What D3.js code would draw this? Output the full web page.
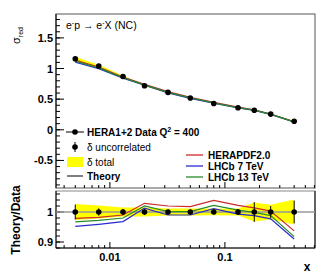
<!DOCTYPE html>
<html>
<head>
<meta charset="utf-8">
<script src="https://cdn.jsdelivr.net/npm/d3@7"></script>
<style>
  body { margin: 0; background: #fff; }
  text { font-family: "Liberation Sans", Arial, sans-serif; }
</style>
</head>
<body>
<div id="chart"></div>
<script>
// HERA1+2 NC e-p, Q2 = 400
var xVals = [0.005, 0.008, 0.013, 0.02, 0.032, 0.05, 0.08, 0.13, 0.18, 0.25, 0.40];
var sigma = [1.16, 1.04, 0.87, 0.72, 0.61, 0.52, 0.43, 0.36, 0.32, 0.256, 0.14];
var errUnc = [0.025, 0.012, 0.01, 0.01, 0.008, 0.008, 0.008, 0.01, 0.033, 0.02, 0.038];
var errTot = [0.027, 0.022, 0.015, 0.015, 0.012, 0.012, 0.011, 0.012, 0.032, 0.024, 0.042];

// theory / data ratios
var ratioHera = [0.979, 0.982, 0.99, 1.029, 1.02, 1.018, 1.039, 1.022, 1.014, 1.003, 0.937];
var ratio7 = [0.952, 0.959, 0.968, 1.013, 0.99, 0.99, 1.011, 0.993, 0.988, 0.977, 0.91];
var ratio13 = [0.967, 0.972, 0.98, 1.02, 1.001, 1.001, 1.022, 1.006, 0.999, 0.988, 0.918];

var topTicks = [-0.5, 0, 0.5, 1, 1.5];
var botTicks = [0.9, 1];
var xTicks = [0.01, 0.1];

var width = 332, height = 276;
var left = 56, right = 315;
var topY0 = 14, topY1 = 188, botY0 = 191, botY1 = 248;

var svg = d3.select('#chart').append('svg')
    .attr('width', width)
    .attr('height', height);

var x = d3.scaleLog().domain([0.0034, 0.607]).range([left, right]);
var yTop = d3.scaleLinear().domain([-0.95, 1.89]).range([topY1, topY0]);
var yBot = d3.scaleLinear().domain([0.88, 1.07]).range([botY1, botY0]);

var red = '#cc2a2a', blue = '#2a2acc', green = '#2a8a2a', band = '#ffff00';

var idx = d3.range(xVals.length);

// frames
svg.append('rect').attr('x', left).attr('y', topY0)
  .attr('width', right - left).attr('height', topY1 - topY0)
  .attr('fill', 'none').attr('stroke', '#555').attr('stroke-width', 1);
svg.append('rect').attr('x', left).attr('y', botY0)
  .attr('width', right - left).attr('height', botY1 - botY0)
  .attr('fill', 'none').attr('stroke', '#888').attr('stroke-width', 1);
svg.append('line').attr('x1', left).attr('x2', right).attr('y1', botY1).attr('y2', botY1)
  .attr('stroke', '#000');
svg.append('line').attr('x1', right).attr('x2', right).attr('y1', botY0).attr('y2', botY1)
  .attr('stroke', '#000');
svg.append('line').attr('x1', left).attr('x2', left).attr('y1', topY0).attr('y2', topY1)
  .attr('stroke', '#000');
svg.append('line').attr('x1', left).attr('x2', left).attr('y1', botY0).attr('y2', botY1)
  .attr('stroke', '#000');

// y ticks (inside)
var drawYTicks = function(scale, lo, hi, minorStep, majors, fmt) {
  var minors = d3.range(Math.ceil(lo / minorStep - 1e-6), Math.floor(hi / minorStep + 1e-6) + 1)
    .map(function(k) { return k * minorStep; });
  svg.selectAll(null).data(minors).enter().append('line')
    .attr('x1', left).attr('x2', left + 4)
    .attr('y1', function(d) { return scale(d); })
    .attr('y2', function(d) { return scale(d); })
    .attr('stroke', '#000');
  svg.selectAll(null).data(majors).enter().append('line')
    .attr('x1', left).attr('x2', left + 8)
    .attr('y1', function(d) { return scale(d); })
    .attr('y2', function(d) { return scale(d); })
    .attr('stroke', '#000');
  svg.selectAll(null).data(majors).enter().append('text')
    .attr('x', left - 3)
    .attr('y', function(d) { return scale(d) + 4; })
    .attr('text-anchor', 'end')
    .attr('font-size', 11).attr('font-weight', 'bold')
    .text(fmt);
};
drawYTicks(yTop, -0.9, 1.85, 0.1, topTicks, function(d) { return d === 0 ? '0' : String(d); });
drawYTicks(yBot, 0.88, 1.06, 0.02, botTicks, function(d) { return String(d); });

// x ticks (inside, log)
var xMinor = [];
[0.001, 0.01, 0.1].forEach(function(dec) {
  for (var m = 1; m <= 9; m++) {
    var v = dec * m;
    if (v >= 0.0034 && v <= 0.607) xMinor.push(v);
  }
});
[topY1, botY1].forEach(function(yb) {
  svg.selectAll(null).data(xMinor).enter().append('line')
    .attr('x1', function(d) { return x(d); })
    .attr('x2', function(d) { return x(d); })
    .attr('y1', yb).attr('y2', function(d) { return xTicks.indexOf(d) >= 0 ? yb - 6 : yb - 3; })
    .attr('stroke', '#000');
});
svg.selectAll(null).data(xTicks).enter().append('text')
  .attr('x', function(d) { return x(d); })
  .attr('y', botY1 + 13)
  .attr('text-anchor', 'middle')
  .attr('font-size', 11).attr('font-weight', 'bold')
  .text(function(d) { return String(d); });

// ---- top panel ----
svg.append('path')
  .datum(idx)
  .attr('fill', band)
  .attr('d', d3.area()
    .x(function(i) { return x(xVals[i]); })
    .y0(function(i) { return yTop(sigma[i] * (1 - errTot[i])); })
    .y1(function(i) { return yTop(sigma[i] * (1 + errTot[i])); }));

[[ratioHera, red], [ratio7, blue], [ratio13, green]].forEach(function(s) {
  svg.append('path')
    .datum(idx)
    .attr('fill', 'none')
    .attr('stroke', s[1]).attr('stroke-width', 1.3)
    .attr('d', d3.line()
      .x(function(i) { return x(xVals[i]); })
      .y(function(i) { return yTop(sigma[i] * s[0][i]); }));
});

svg.selectAll(null).data(idx).enter().append('circle')
  .attr('cx', function(i) { return x(xVals[i]); })
  .attr('cy', function(i) { return yTop(sigma[i]); })
  .attr('r', 2.8).attr('fill', '#000');

// ---- ratio panel ----
svg.append('path')
  .datum(idx)
  .attr('fill', band)
  .attr('d', d3.area()
    .x(function(i) { return x(xVals[i]); })
    .y0(function(i) { return yBot(1 - errTot[i]); })
    .y1(function(i) { return yBot(1 + errTot[i]); }));

svg.append('line')
  .attr('x1', left).attr('x2', right)
  .attr('y1', yBot(1)).attr('y2', yBot(1))
  .attr('stroke', '#999').attr('stroke-width', 1.5);

[[ratioHera, red], [ratio13, green], [ratio7, blue]].forEach(function(s) {
  svg.append('path')
    .datum(idx)
    .attr('fill', 'none')
    .attr('stroke', s[1]).attr('stroke-width', 1.2)
    .attr('d', d3.line()
      .x(function(i) { return x(xVals[i]); })
      .y(function(i) { return yBot(s[0][i]); }));
});

svg.selectAll(null).data(idx).enter().append('line')
  .attr('x1', function(i) { return x(xVals[i]); })
  .attr('x2', function(i) { return x(xVals[i]); })
  .attr('y1', function(i) { return yBot(1 - errUnc[i]); })
  .attr('y2', function(i) { return yBot(1 + errUnc[i]); })
  .attr('stroke', '#000').attr('stroke-width', 1);

svg.selectAll(null).data(idx).enter().append('circle')
  .attr('cx', function(i) { return x(xVals[i]); })
  .attr('cy', yBot(1))
  .attr('r', 2.8).attr('fill', '#000');

// ---- labels ----
var title = svg.append('text').attr('x', 66).attr('y', 29).attr('font-size', 10.5);
title.append('tspan').text('e');
title.append('tspan').attr('dy', -4).attr('font-size', 7).text('-');
title.append('tspan').attr('dy', 4).text('p \u2192 e');
title.append('tspan').attr('dy', -4).attr('font-size', 7).text('-');
title.append('tspan').attr('dy', 4).text('X (NC)');

var sig = svg.append('text')
  .attr('transform', 'translate(20,44) rotate(-90)')
  .attr('font-size', 11);
sig.append('tspan').text('\u03c3');
sig.append('tspan').attr('dy', 3).attr('font-size', 7).text('red');

svg.append('text')
  .attr('transform', 'translate(20,220) rotate(-90)')
  .attr('text-anchor', 'middle')
  .attr('font-size', 12).attr('font-weight', 'bold')
  .text('Theory/Data');

svg.append('text')
  .attr('x', 307).attr('y', 271)
  .attr('text-anchor', 'middle')
  .attr('font-size', 12).attr('font-weight', 'bold')
  .text('x');

// ---- legends ----
var leg = svg.append('g');
leg.append('line').attr('x1', 66).attr('x2', 84).attr('y1', 132).attr('y2', 132)
  .attr('stroke', '#000');
leg.append('circle').attr('cx', 75).attr('cy', 132).attr('r', 2.8).attr('fill', '#000');
var lt = leg.append('text').attr('x', 87).attr('y', 136)
  .attr('font-size', 10).attr('font-weight', 'bold');
lt.append('tspan').text('HERA1+2 Data Q');
lt.append('tspan').attr('dy', -4).attr('font-size', 7).text('2');
lt.append('tspan').attr('dy', 4).text(' = 400');

leg.append('line').attr('x1', 75).attr('x2', 75).attr('y1', 142).attr('y2', 152)
  .attr('stroke', '#000');
leg.append('circle').attr('cx', 75).attr('cy', 147).attr('r', 2.8).attr('fill', '#000');
leg.append('text').attr('x', 87).attr('y', 151).attr('font-size', 10)
  .text('\u03b4 uncorrelated');

leg.append('rect').attr('x', 67).attr('y', 157).attr('width', 16).attr('height', 10)
  .attr('fill', band);
leg.append('text').attr('x', 87).attr('y', 166).attr('font-size', 10)
  .text('\u03b4 total');

leg.append('line').attr('x1', 67).attr('x2', 83).attr('y1', 176).attr('y2', 176)
  .attr('stroke', '#555').attr('stroke-width', 1.5);
leg.append('text').attr('x', 87).attr('y', 180).attr('font-size', 10)
  .attr('font-weight', 'bold').text('Theory');

var thLeg = [['HERAPDF2.0', red], ['LHCb 7 TeV', blue], ['LHCb 13 TeV', green]];
svg.selectAll(null).data(thLeg).enter().append('line')
  .attr('x1', 186).attr('x2', 203)
  .attr('y1', function(d, i) { return 155 + i * 11; })
  .attr('y2', function(d, i) { return 155 + i * 11; })
  .attr('stroke', function(d) { return d[1]; }).attr('stroke-width', 1.3);
svg.selectAll(null).data(thLeg).enter().append('text')
  .attr('x', 208)
  .attr('y', function(d, i) { return 159 + i * 11; })
  .attr('font-size', 10).attr('font-weight', 'bold')
  .text(function(d) { return d[0]; });
</script>
</body>
</html>
